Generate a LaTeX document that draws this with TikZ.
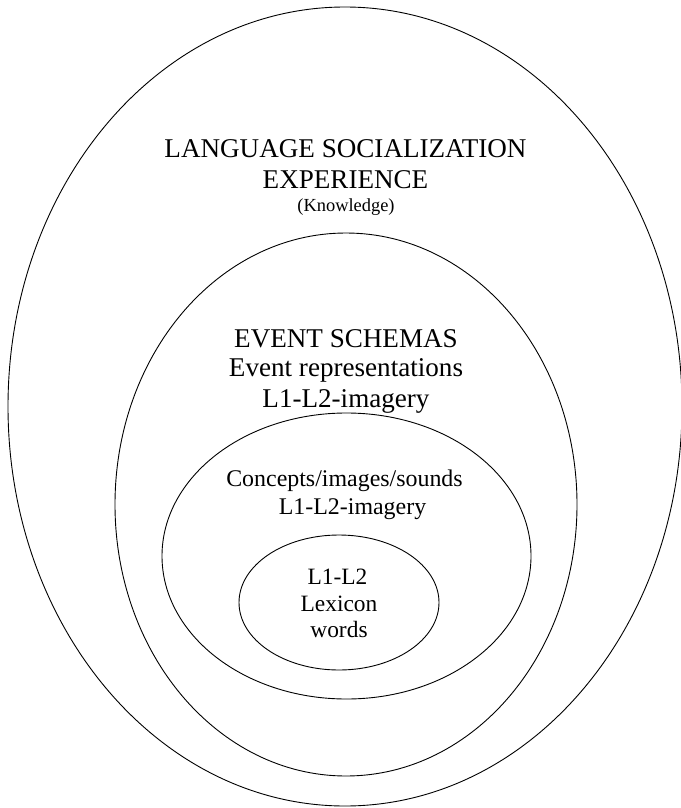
\documentclass[tikz,border=0pt]{standalone}
\usepackage{fontspec}
\setmainfont{Liberation Serif}
\begin{document}
\begin{tikzpicture}[x=1bp,y=-1bp,
  ring/.style={draw=black,line width=0.9bp},
  big/.style={inner sep=0pt,anchor=base,font=\fontsize{27.2}{32}\selectfont},
  mid/.style={inner sep=0pt,anchor=base,font=\fontsize{24}{28}\selectfont},
  small/.style={inner sep=0pt,anchor=base,font=\fontsize{23.5}{27}\selectfont},
  tiny/.style={inner sep=0pt,anchor=base,font=\fontsize{18.5}{21}\selectfont}]
\useasboundingbox (0,0) rectangle (681,808);
% rings
\draw[ring] (345,406.5) ellipse [x radius=337, y radius=399.5];
\draw[ring] (346,504.5) ellipse [x radius=231, y radius=271.5];
\draw[ring] (346.5,556) ellipse [x radius=184.5, y radius=143];
\draw[ring] (339,602.5) ellipse [x radius=100, y radius=67.5];
% outer text
\node[big] (lang) at (345.5,157) {LANGUAGE SOCIALIZATION};
\node[big] (exp) at (345.5,188) {EXPERIENCE};
\node[tiny] (know) at (346,211) {(Knowledge)};
% second ring text
\node[big] (ev) at (346,347) {EVENT SCHEMAS};
\node[big] (evrep) at (346,376) {Event representations};
\node[big] (img1) at (346,407) {L1-L2-imagery};
% third ring text
\node[mid] (conc) at (344.5,486) {Concepts/images/sounds};
\node[mid] (img2) at (352.5,514) {L1-L2-imagery};
% inner text
\node[small] (l1l2) at (337.5,584) {L1-L2};
\node[small] (lex) at (339,611) {Lexicon};
\node[small] (words) at (339,637) {words};
\end{tikzpicture}
\end{document}
